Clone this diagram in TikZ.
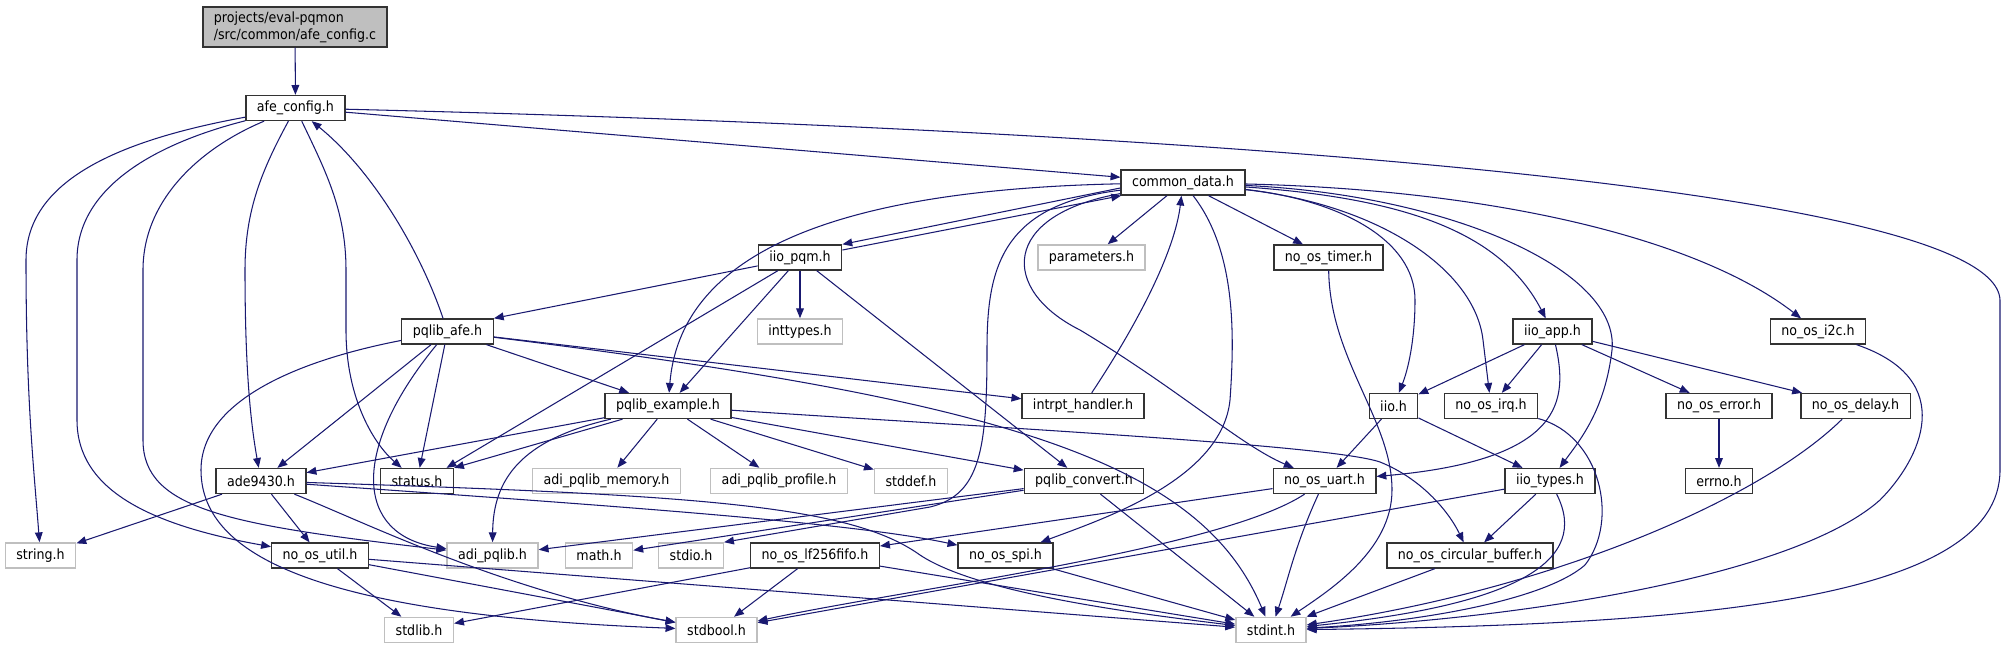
\documentclass[tikz,border=0pt]{standalone}
\usepackage{fontspec}
\setmainfont{DejaVu Sans Condensed}
\usetikzlibrary{arrows.meta}
\definecolor{dxEdge}{HTML}{191970}
\definecolor{dxGrey}{HTML}{BFBFBF}
\tikzset{
  >={Triangle[length=5.6pt,width=4.4pt]},
  every node/.style={font=\fontsize{8}{9.6}\selectfont},
  hdr/.style={draw=black!80, line width=0.75pt, fill=white, minimum height=0.5cm, inner xsep=0.22cm, inner ysep=0pt},
  syshdr/.style={hdr, draw=dxGrey, line width=0.9pt},
  srcfile/.style={hdr, fill=dxGrey, align=left, minimum height=0.8cm},
  inc/.style={->, draw=dxEdge, line width=0.6pt},
}

\begin{document}
\begin{tikzpicture}[x=0.02cm, y=-0.02cm]
  \useasboundingbox (0,0) rectangle (2006,649);

  % ── Source file ──
  \node[srcfile] (src) at (295,27) {projects/eval-pqmon\\/src/common/afe\_config.c};

  % ── Project headers (black frame) ──
  \foreach \n/\x/\y/\t in {
      afecfg/295.5/108/afe\_config.h, cdata/1183/182.5/common\_data.h,
      iiopqm/800/257.5/iio\_pqm.h, ostimer/1328.5/257.5/no\_os\_timer.h,
      pqafe/447.5/331.5/pqlib\_afe.h, iioapp/1552.5/331.5/iio\_app.h,
      osi2c/1818/331.5/no\_os\_i2c.h, pqex/668/406/pqlib\_example.h,
      intrpt/1083/406/intrpt\_handler.h, iioh/1393.5/406/iio.h,
      osirq/1491/406/no\_os\_irq.h, oserr/1719/406/no\_os\_error.h,
      osdelay/1855.5/406/no\_os\_delay.h, ade/261/481/ade9430.h,
      status/417/481/status.h, pqconv/1084/481/pqlib\_convert.h,
      osuart/1324.5/481/no\_os\_uart.h, iiotyp/1550/481/iio\_types.h,
      errno/1719/481/errno.h, osutil/320/555.5/no\_os\_util.h,
      fifo/815/555.5/no\_os\_lf256fifo.h, osspi/1005.5/555.5/no\_os\_spi.h,
      circbuf/1470/555.5/no\_os\_circular\_buffer.h}
    \node[hdr] (\n) at (\x,\y) {\t};

  % ── System headers (grey frame) ──
  \foreach \n/\x/\y/\t in {
      params/1091.5/257.5/parameters.h, inttyp/800/331.5/inttypes.h,
      pqmem/606.5/481/adi\_pqlib\_memory.h, pqprof/779/481/adi\_pqlib\_profile.h,
      stddef/911/481/stddef.h, string/40.5/555.5/string.h,
      adipq/492.5/555.5/adi\_pqlib.h, mathh/599/555.5/math.h,
      stdio/691/555.5/stdio.h, stdlib/419/630/stdlib.h,
      stdbool/716.5/630/stdbool.h, stdint/1271/630/stdint.h}
    \node[syshdr] (\n) at (\x,\y) {\t};

  % ── Straight include edges ──
  \foreach \a/\b in {src/afecfg, afecfg/cdata, pqafe/ade, pqafe/status, pqafe/pqex,
      pqafe/intrpt, iiopqm/pqex, iiopqm/inttyp, iiopqm/pqconv, cdata/params,
      cdata/ostimer, pqex/ade, pqex/pqmem, pqex/pqprof, pqex/stddef, pqex/pqconv,
      ade/string, ade/osutil, osutil/stdlib, osutil/stdbool, osutil/stdint,
      pqconv/adipq, pqconv/mathh, pqconv/stdint, osuart/fifo, fifo/stdlib,
      fifo/stdbool, fifo/stdint, osspi/stdint, circbuf/stdint, iiotyp/stdbool,
      iiotyp/circbuf, iioapp/iioh, iioapp/osirq, iioapp/oserr, iioapp/osdelay,
      iioh/osuart, iioh/iiotyp, oserr/errno}
    \draw[inc] (\a) -- (\b);

  \draw[inc] (iiopqm) -- (pqafe.north east);
  \draw[inc] (iiopqm) -- (status.24);
  \draw[inc] (pqex) -- (status.north east);
  \draw[inc] (cdata.185) -- (iiopqm.north east);
  \draw[inc] (iiopqm.10) -- (cdata.192);

  % ── afe_config.h fan-out ──
  \draw[inc] (afecfg) .. controls (120,140) and (26,180) .. (26,260)
    .. controls (26,400) and (34,470) .. (string);
  \draw[inc] (afecfg) .. controls (150,145) and (77,190) .. (77,260) -- (77,420)
    .. controls (77,490) and (150,525) .. (osutil);
  \draw[inc] (afecfg) .. controls (200,148) and (143,200) .. (143,270) -- (143,440)
    .. controls (143,510) and (230,525) .. (adipq);
  \draw[inc] (afecfg) .. controls (262,170) and (245,210) .. (245,270)
    .. controls (245,380) and (252,430) .. (ade);
  \draw[inc] (afecfg) .. controls (325,170) and (346,210) .. (346,270) -- (346,330)
    .. controls (346,400) and (375,445) .. (status);
  \draw[inc] (afecfg) .. controls (1000,125) and (1995,175) .. (2000,300) -- (2000,470)
    .. controls (2000,600) and (1700,625) .. (stdint);

  % ── pqlib_afe.h ──
  \draw[inc] (pqafe) .. controls (420,250) and (372,170) .. (afecfg);
  \draw[inc] (pqafe) .. controls (300,360) and (201,400) .. (201,470)
    .. controls (201,560) and (330,615) .. (stdbool);
  \draw[inc] (pqafe) .. controls (350,450) and (355,535) .. (adipq);
  \draw[inc] (pqafe) .. controls (1000,400) and (1200,460) .. (stdint);

  % ── common_data.h ──
  \draw[inc] (cdata) .. controls (820,190) and (680,260) .. (pqex);
  \draw[inc] (cdata) .. controls (1000,215) and (1000,290) .. (1080,330)
    .. controls (1180,390) and (1240,445) .. (osuart);
  \draw[inc] (cdata) .. controls (1000,205) and (987,270) .. (987,350)
    .. controls (987,450) and (980,495) .. (930,507) -- (stdio.north east);
  \draw[inc] (cdata) .. controls (1235,250) and (1235,330) .. (1230,400)
    .. controls (1222,480) and (1100,520) .. (osspi);
  \draw[inc] (intrpt) .. controls (1140,320) and (1175,250) .. (cdata);
  \draw[inc] (cdata) .. controls (1340,200) and (1415,240) .. (1415,300)
    .. controls (1415,340) and (1408,370) .. (iioh);
  \draw[inc] (cdata) .. controls (1380,205) and (1475,270) .. (1483,340) -- (osirq);
  \draw[inc] (cdata) .. controls (1400,198) and (1500,230) .. (iioapp);
  \draw[inc] (cdata) .. controls (1450,195) and (1620,270) .. (1612,350)
    .. controls (1605,410) and (1580,440) .. (iiotyp);
  \draw[inc] (cdata) .. controls (1500,190) and (1700,240) .. (osi2c);

  % ── pqlib_example.h / ade9430.h ──
  \draw[inc] (pqex) .. controls (520,440) and (493,480) .. (adipq);
  \draw[inc] (pqex) .. controls (1000,428) and (1330,445) .. (1380,462)
    .. controls (1420,478) and (1448,510) .. (circbuf);
  \draw[inc] (ade) .. controls (360,520) and (500,590) .. (stdbool);
  \draw[inc] (ade) .. controls (600,505) and (850,522) .. (osspi);
  \draw[inc] (ade) .. controls (700,495) and (850,505) .. (920,555)
    .. controls (980,595) and (1150,615) .. (stdint);

  % ── no-OS layer ──
  \draw[inc] (osuart) .. controls (1220,550) and (900,590) .. (stdbool);
  \draw[inc] (osuart) .. controls (1295,545) and (1288,580) .. (stdint);
  \draw[inc] (ostimer) .. controls (1330,360) and (1392,420) .. (1392,490)
    .. controls (1392,550) and (1330,590) .. (stdint);
  \draw[inc] (iiotyp) .. controls (1590,560) and (1520,605) .. (stdint);
  \draw[inc] (osirq) .. controls (1600,435) and (1620,520) .. (1585,565)
    .. controls (1545,600) and (1420,622) .. (stdint);
  \draw[inc] (osdelay) .. controls (1760,500) and (1550,590) .. (stdint);
  \draw[inc] (osi2c) .. controls (1960,380) and (1920,460) .. (1880,500)
    .. controls (1790,580) and (1500,620) .. (stdint);
  \draw[inc] (iioapp) .. controls (1568,400) and (1565,460) .. (osuart);
\end{tikzpicture}
\end{document}
